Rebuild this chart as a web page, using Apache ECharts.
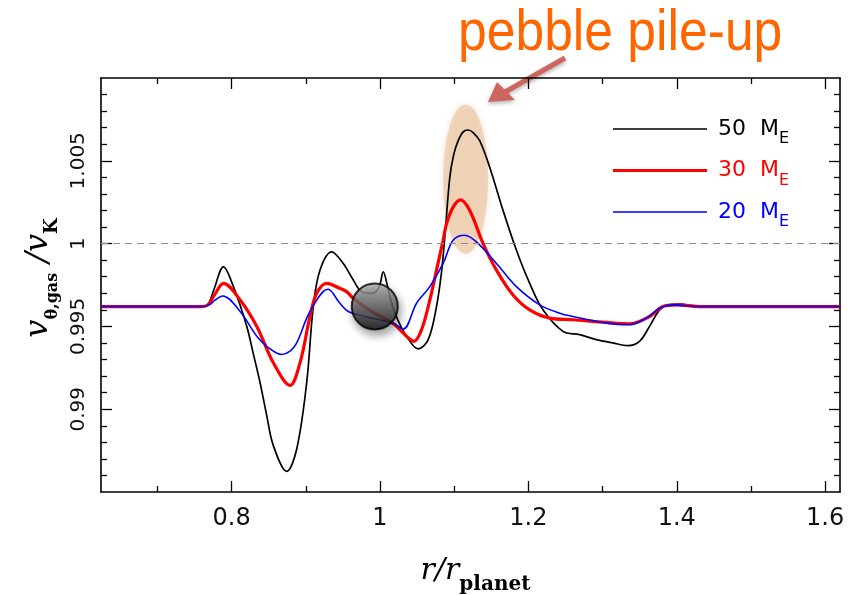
<!DOCTYPE html>
<html>
<head>
<meta charset="utf-8">
<title>pebble pile-up</title>
<script src="https://cdn.jsdelivr.net/npm/echarts@6/dist/echarts.min.js"></script>
<style>
  html, body { margin: 0; padding: 0; background: #fff; }
  #chart { width: 852px; height: 595px; }
</style>
</head>
<body>
<div id="chart"></div>
<script>
var xMajorTicks = [0.8, 1, 1.2, 1.4, 1.6];
var xMinorTicks = [0.7, 0.9, 1.1, 1.3, 1.5];
var yMajorTicks = [0.99, 0.995, 1, 1.005];
var yMinorTicks = [0.986, 0.987, 0.988, 0.989, 0.991, 0.992, 0.993, 0.994,
  0.996, 0.997, 0.998, 0.999, 1.001, 1.002, 1.003, 1.004, 1.006, 1.007, 1.008, 1.009];

var seriesNames = ['50 ME', '30 ME', '20 ME'];

// r / r_planet , v_gas / v_K
var mass50 = [
  [0.624, 0.9962], [0.70, 0.9962], [0.760, 0.9962], [0.768, 0.9963], [0.776, 0.9972],
  [0.789, 0.9986], [0.8025, 0.9974], [0.8205, 0.9950], [0.829, 0.9934], [0.8384, 0.9916],
  [0.847, 0.9897], [0.8563, 0.9878], [0.8743, 0.98624], [0.8878, 0.9876], [0.9012, 0.9916],
  [0.9101, 0.9962], [0.9192, 0.9984], [0.9349, 0.9995], [0.9505, 0.9988], [0.964, 0.9978],
  [0.975, 0.9971], [0.990, 0.9970], [0.999, 0.9974], [1.0044, 0.9983], [1.0098, 0.9975],
  [1.015, 0.9965], [1.022, 0.9956], [1.0358, 0.9944], [1.0515, 0.99364], [1.065, 0.9942],
  [1.0762, 0.9962], [1.083, 0.9983], [1.0874, 1.0004], [1.0941, 1.0040], [1.0995, 1.0054],
  [1.1053, 1.0062], [1.112, 1.00675], [1.1188, 1.00686], [1.1255, 1.0067], [1.1345, 1.0062],
  [1.148, 1.0046], [1.1659, 1.0020], [1.1839, 0.9996], [1.2018, 0.9976], [1.2197, 0.9960],
  [1.2466, 0.9947], [1.2691, 0.9945], [1.2916, 0.9942], [1.3139, 0.9940], [1.3341, 0.99384],
  [1.3498, 0.9941], [1.3633, 0.9950], [1.3768, 0.9960], [1.3879, 0.9963], [1.4045, 0.99635],
  [1.43, 0.9962], [1.62, 0.9962]
];
var mass30 = [
  [0.624, 0.9962], [0.70, 0.9962], [0.760, 0.9962], [0.768, 0.9963], [0.777, 0.9969],
  [0.789, 0.9976], [0.8115, 0.9966], [0.834, 0.9950], [0.8563, 0.9928], [0.8788, 0.99144],
  [0.8922, 0.9928], [0.9057, 0.9956], [0.9147, 0.9970], [0.9282, 0.9976], [0.946, 0.9973],
  [0.955, 0.9971], [0.964, 0.9967], [0.985, 0.9960], [1.005, 0.9955], [1.020, 0.9951],
  [1.0358, 0.9944], [1.0457, 0.9941], [1.056, 0.9948], [1.0672, 0.9966], [1.0762, 0.9984],
  [1.0851, 1.0002], [1.0897, 1.0012], [1.0986, 1.0022], [1.1085, 1.00264], [1.121, 1.0020],
  [1.139, 1.0000], [1.157, 0.9984], [1.1793, 0.9969], [1.2018, 0.9960], [1.2287, 0.9955],
  [1.26, 0.9954], [1.305, 0.99524], [1.3364, 0.99516], [1.3634, 0.9956], [1.3813, 0.9962],
  [1.40, 0.9963], [1.43, 0.9962], [1.62, 0.9962]
];
var mass20 = [
  [0.624, 0.9962], [0.70, 0.9962], [0.760, 0.9962], [0.770, 0.9963], [0.778, 0.9966],
  [0.788, 0.99684], [0.8115, 0.9959], [0.834, 0.9944], [0.8474, 0.9938], [0.8676, 0.9933],
  [0.8788, 0.9935], [0.8878, 0.9940], [0.9057, 0.9959], [0.930, 0.99724], [0.946, 0.9964],
  [0.9573, 0.9959], [0.98, 0.9956], [1.0, 0.9954], [1.0178, 0.9952], [1.0313, 0.99484],
  [1.0493, 0.9964], [1.0672, 0.9974], [1.0851, 0.9988], [1.0986, 1.0002], [1.1143, 1.0005],
  [1.130, 1.0001], [1.157, 0.9988], [1.1839, 0.9974], [1.2153, 0.9963], [1.2422, 0.9958],
  [1.26, 0.9956], [1.305, 0.9952], [1.3364, 0.9951], [1.3589, 0.9955], [1.3768, 0.9961],
  [1.3947, 0.9963], [1.43, 0.9962], [1.62, 0.9962]
];

var planetAt = [[0.993, 0.9962]];
// centre x, centre y, half width, half height
var pileUp = [[1.1154, 1.0039, 0.0303, 0.0045]];

var X_MIN = 0.624, X_MAX = 1.62, Y_MIN = 0.985, Y_MAX = 1.01;
var LINE_COLORS = ['#000000', '#ff0000', '#0000ff'];
var LINE_WIDTHS = [1.7, 3.2, 1.6];

var chart = echarts.init(document.getElementById('chart'), null, { renderer: 'canvas' });

function makeAxis(pos, min, max, ticks, len, showLine, label) {
  return {
    type: 'value',
    position: pos,
    min: min,
    max: max,
    axisLine: { show: showLine, onZero: false, lineStyle: { color: '#000', width: 1.6 } },
    axisTick: { show: true, inside: true, length: len, customValues: ticks,
      lineStyle: { color: '#000', width: 1.3 } },
    axisLabel: label || { show: false },
    splitLine: { show: false }
  };
}

function trimNum(v) { return String(+v.toFixed(3)); }

var xBottom = makeAxis('bottom', X_MIN, X_MAX, xMajorTicks, 11, true, {
  show: true, customValues: xMajorTicks, margin: 15, color: '#111',
  fontFamily: 'DejaVu Sans', fontSize: 24, formatter: trimNum
});
xBottom.name = '{i|r/r}{b|planet}';
xBottom.nameLocation = 'middle';
xBottom.nameGap = 64;
xBottom.nameTextStyle = {
  padding: [0, 0, 0, 10],
  rich: {
    i: { fontFamily: 'DejaVu Serif', fontStyle: 'italic', fontSize: 30, lineHeight: 34,
      verticalAlign: 'top', color: '#000' },
    b: { fontFamily: 'DejaVu Serif', fontWeight: 'bold', fontSize: 20, lineHeight: 20,
      padding: [19, 0, 0, 0], verticalAlign: 'top', color: '#000' }
  }
};

var yLeft = makeAxis('left', Y_MIN, Y_MAX, yMajorTicks, 11, true, {
  show: true, customValues: yMajorTicks, margin: 12, rotate: 90, color: '#111',
  fontFamily: 'DejaVu Sans', fontSize: 20, formatter: trimNum
});
yLeft.name = '{v|v}{s|θ,gas}{sp| }{v|/v}{k|K}';
yLeft.nameLocation = 'middle';
yLeft.nameRotate = 90;
yLeft.nameGap = 42;
yLeft.nameTextStyle = {
  padding: [0, 0, 0, 14],
  rich: {
    v: { fontFamily: 'DejaVu Serif', fontStyle: 'italic', fontSize: 32, lineHeight: 34,
      verticalAlign: 'top', color: '#000' },
    s: { fontFamily: 'DejaVu Serif', fontWeight: 'bold', fontSize: 16, lineHeight: 16,
      padding: [22, 0, 0, 0], verticalAlign: 'top', color: '#000' },
    k: { fontFamily: 'DejaVu Serif', fontWeight: 'bold', fontSize: 18, lineHeight: 18,
      padding: [20, 0, 0, 0], verticalAlign: 'top', color: '#000' },
    sp: { fontSize: 16, width: 10 }
  }
};

function legendIcon(t) {
  var a = 7 - t / 2, b = 7 + t / 2;
  return 'path://M0,0L94,0ZM0,14L94,14ZM0,' + a + 'H94V' + b + 'H0Z';
}

var legendRich = {};
['a', 'b', 'c'].forEach(function (k, i) {
  legendRich['n' + k] = { color: LINE_COLORS[i], fontFamily: 'DejaVu Sans', fontSize: 22,
    lineHeight: 22, verticalAlign: 'top' };
  legendRich['m' + k] = { color: LINE_COLORS[i], fontFamily: 'DejaVu Sans', fontSize: 22,
    lineHeight: 22, verticalAlign: 'top', padding: [0, 0, 0, 14] };
  legendRich['e' + k] = { color: LINE_COLORS[i], fontFamily: 'DejaVu Sans', fontSize: 16,
    lineHeight: 16, verticalAlign: 'top', padding: [13, 0, 0, 0] };
});

var option = {
  animation: false,
  backgroundColor: '#fff',
  grid: { left: 101, right: 12, top: 78, bottom: 103, outerBoundsMode: 'none' },
  xAxis: [
    xBottom,
    makeAxis('bottom', X_MIN, X_MAX, xMinorTicks, 6, false),
    makeAxis('top', X_MIN, X_MAX, xMajorTicks, 11, true),
    makeAxis('top', X_MIN, X_MAX, xMinorTicks, 6, false)
  ],
  yAxis: [
    yLeft,
    makeAxis('left', Y_MIN, Y_MAX, yMinorTicks, 6, false),
    makeAxis('right', Y_MIN, Y_MAX, yMajorTicks, 11, true),
    makeAxis('right', Y_MIN, Y_MAX, yMinorTicks, 6, false)
  ],
  legend: {
    left: 608,
    top: 113,
    orient: 'vertical',
    itemWidth: 94,
    itemHeight: 14,
    itemGap: 12.5,
    selectedMode: false,
    textStyle: { padding: [0, 0, 0, 6], rich: legendRich },
    formatter: function (name) {
      var k = ['a', 'b', 'c'][seriesNames.indexOf(name)];
      return '{n' + k + '|' + name.split(' ')[0] + '}{m' + k + '|M}{e' + k + '|E}';
    },
    data: seriesNames.map(function (n, i) {
      return { name: n, icon: legendIcon(LINE_WIDTHS[i]) };
    })
  },
  graphic: [
    {
      type: 'text', x: 458, y: 34, scaleX: 0.89,
      style: { text: 'pebble pile-up', fill: '#ff6600', fontSize: 58,
        fontFamily: '"Liberation Sans", Arial, sans-serif', verticalAlign: 'middle' }
    },
    {
      type: 'line', shape: { x1: 565, y1: 58, x2: 505, y2: 92 },
      style: { stroke: '#cd6660', lineWidth: 5, shadowBlur: 4, shadowOffsetY: 2,
        shadowColor: 'rgba(0,0,0,0.3)' }
    },
    {
      type: 'polygon', shape: { points: [[488, 102], [497, 82], [515, 100]] },
      style: { fill: '#cd6660', shadowBlur: 4, shadowOffsetY: 2, shadowColor: 'rgba(0,0,0,0.3)' }
    }
  ],
  series: [
    {
      type: 'custom',
      silent: true,
      z: 1,
      data: pileUp,
      renderItem: function (params, api) {
        var c = api.coord([api.value(0), api.value(1)]);
        var s = api.size([api.value(2), api.value(3)], [api.value(0), api.value(1)]);
        return {
          type: 'ellipse',
          shape: { cx: c[0], cy: c[1], rx: s[0], ry: s[1] },
          style: { fill: 'rgba(236,202,170,0.7)', shadowBlur: 6,
            shadowColor: 'rgba(236,202,170,0.8)' }
        };
      }
    },
    {
      name: seriesNames[0], type: 'line', data: mass50, symbol: 'none', smooth: 0.35,
      z: 4, silent: true,
      lineStyle: { color: LINE_COLORS[0], width: LINE_WIDTHS[0] },
      itemStyle: { color: LINE_COLORS[0] },
      markLine: {
        silent: true, symbol: ['none', 'none'], label: { show: false },
        lineStyle: { color: '#8c8c8c', type: [7, 5], width: 1 },
        data: [{ yAxis: 1 }]
      }
    },
    {
      name: seriesNames[1], type: 'line', data: mass30, symbol: 'none', smooth: 0.35,
      z: 4, silent: true,
      lineStyle: { color: LINE_COLORS[1], width: LINE_WIDTHS[1] },
      itemStyle: { color: LINE_COLORS[1] }
    },
    {
      name: seriesNames[2], type: 'line', data: mass20, symbol: 'none', smooth: 0.35,
      z: 4, silent: true,
      lineStyle: { color: LINE_COLORS[2], width: LINE_WIDTHS[2] },
      itemStyle: { color: LINE_COLORS[2] }
    },
    {
      type: 'scatter', data: planetAt, symbolSize: 46, z: 10, silent: true,
      itemStyle: {
        color: new echarts.graphic.LinearGradient(0, 0, 0, 1, [
          { offset: 0, color: '#b8b8b8' },
          { offset: 1, color: '#0a0a0a' }
        ]),
        borderColor: '#000', borderWidth: 2,
        shadowBlur: 8, shadowOffsetX: 2, shadowOffsetY: 5, shadowColor: 'rgba(0,0,0,0.45)'
      }
    }
  ]
};

chart.setOption(option);
</script>
</body>
</html>
